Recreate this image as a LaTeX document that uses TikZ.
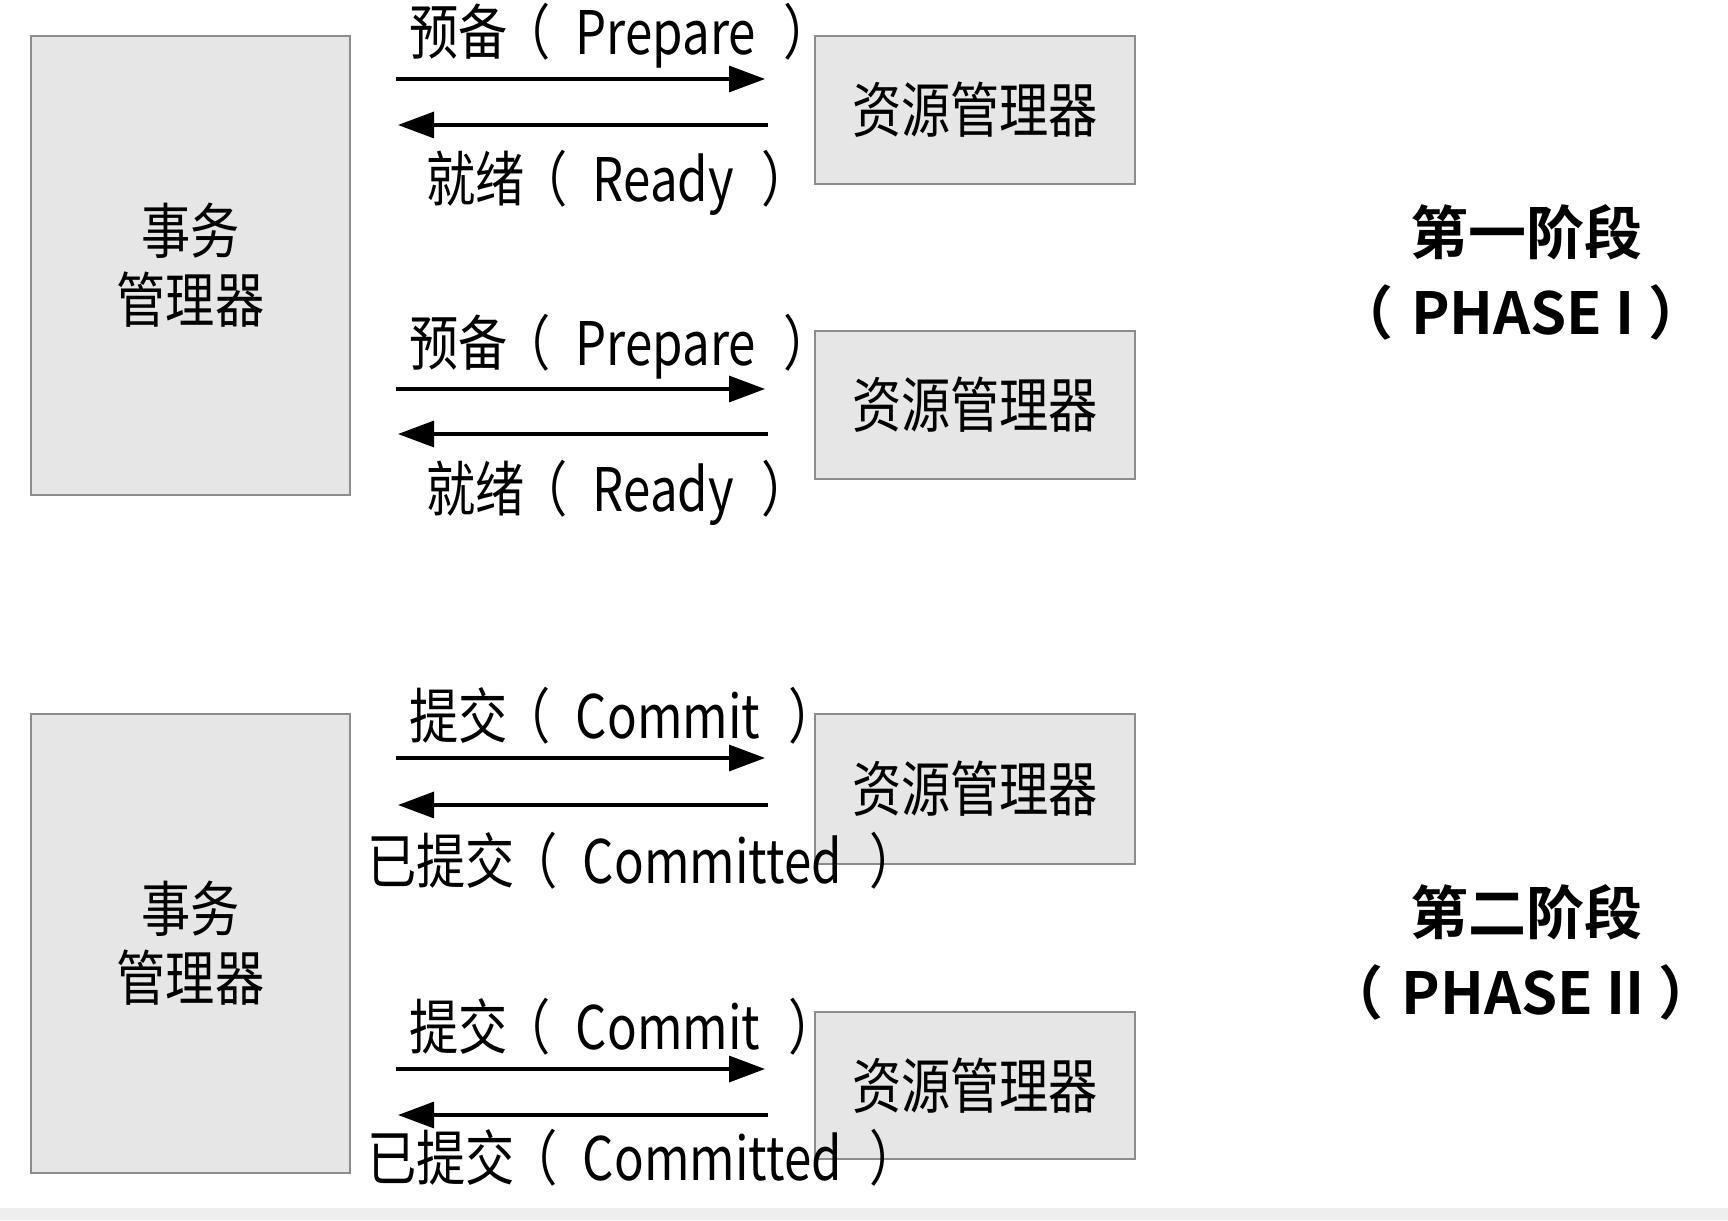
\documentclass[tikz,border=0pt]{standalone}
\usepackage{fontspec}
\setmainfont{Noto Sans CJK SC}
\newfontfamily\lblfont{Noto Sans CJK SC}[FakeStretch=0.82]
\newfontfamily\phasefont{Noto Sans CJK SC Bold}
\usetikzlibrary{arrows.meta}
\definecolor{boxfill}{HTML}{E6E6E6}
\definecolor{boxborder}{HTML}{8C8C8C}
\definecolor{bandgray}{HTML}{EEEEEE}
\newcommand{\mylp}{\kern-6pt（\kern25pt}
\newcommand{\myrp}{\kern28pt）}
\newcommand{\myplp}{\kern-10pt（\kern18pt}
\newcommand{\myprp}{\kern14pt）}
\begin{document}
\begin{tikzpicture}[x=1pt,y=-1pt,
  box/.style={draw=boxborder, fill=boxfill, line width=2pt, inner sep=0pt,
    align=center, font=\lblfont\fontsize{60}{69}\selectfont},
  arr/.style={-{Triangle[length=36pt,width=26pt]}, line width=3.3pt},
  lbl/.style={inner sep=0pt, anchor=west, font=\lblfont\fontsize{60}{69}\selectfont},
  phase/.style={inner sep=0pt, align=center, font=\phasefont\fontsize{58}{80}\selectfont}]
\useasboundingbox (0,0) rectangle (1728,1220);
\fill[white] (0,0) rectangle (1728,1220);
\fill[bandgray] (0,1208) rectangle (1728,1220);

% Phase I
\node[box, minimum width=319pt, minimum height=459pt] (tm1) at (190.5,265.5) {事务\\管理器};
\node[box, minimum width=320pt, minimum height=148pt] (rm1) at (975,110) {资源管理器};
\node[box, minimum width=320pt, minimum height=148pt] (rm2) at (975,405) {资源管理器};

\coordinate (y1) at (0,79);
\coordinate (y2) at (0,125);
\coordinate (y3) at (0,389);
\coordinate (y4) at (0,434);
\draw[arr, shorten <=45pt, shorten >=49pt] (tm1.east |- y1) -- (rm1.west |- y1);
\draw[arr, shorten <=46pt, shorten >=47pt] (rm1.west |- y2) -- (tm1.east |- y2);
\draw[arr, shorten <=45pt, shorten >=49pt] (tm1.east |- y3) -- (rm2.west |- y3);
\draw[arr, shorten <=46pt, shorten >=47pt] (rm2.west |- y4) -- (tm1.east |- y4);

\node[lbl] (lp1) at (409,36) {预备\mylp Prepare\myrp};
\node[lbl] (lr1) at (426,183) {就绪\mylp Ready\myrp};
\node[lbl] (lp2) at (409,347) {预备\mylp Prepare\myrp};
\node[lbl] (lr2) at (426,493) {就绪\mylp Ready\myrp};

\node[phase] (ph1) at (1526,272) {第一阶段\\\myplp PHASE I\myprp};

% Phase II
\node[box, minimum width=319pt, minimum height=459pt] (tm2) at (190.5,943.5) {事务\\管理器};
\node[box, minimum width=320pt, minimum height=150pt] (rm3) at (975,789) {资源管理器};
\node[box, minimum width=320pt, minimum height=147pt] (rm4) at (975,1085.5) {资源管理器};

\coordinate (y5) at (0,758);
\coordinate (y6) at (0,805);
\coordinate (y7) at (0,1069);
\coordinate (y8) at (0,1115);
\draw[arr, shorten <=45pt, shorten >=49pt] (tm2.east |- y5) -- (rm3.west |- y5);
\draw[arr, shorten <=46pt, shorten >=47pt] (rm3.west |- y6) -- (tm2.east |- y6);
\draw[arr, shorten <=45pt, shorten >=49pt] (tm2.east |- y7) -- (rm4.west |- y7);
\draw[arr, shorten <=46pt, shorten >=47pt] (rm4.west |- y8) -- (tm2.east |- y8);

\node[lbl] (lc1) at (409,716) {提交\mylp Commit\myrp};
\node[lbl] (ld1) at (367,861) {已提交\mylp Committed\myrp};
\node[lbl] (lc2) at (409,1027) {提交\mylp Commit\myrp};
\node[lbl] (ld2) at (367,1158) {已提交\mylp Committed\myrp};

\node[phase] (ph2) at (1526,952) {第二阶段\\\myplp PHASE II\myprp};
\end{tikzpicture}
\end{document}
